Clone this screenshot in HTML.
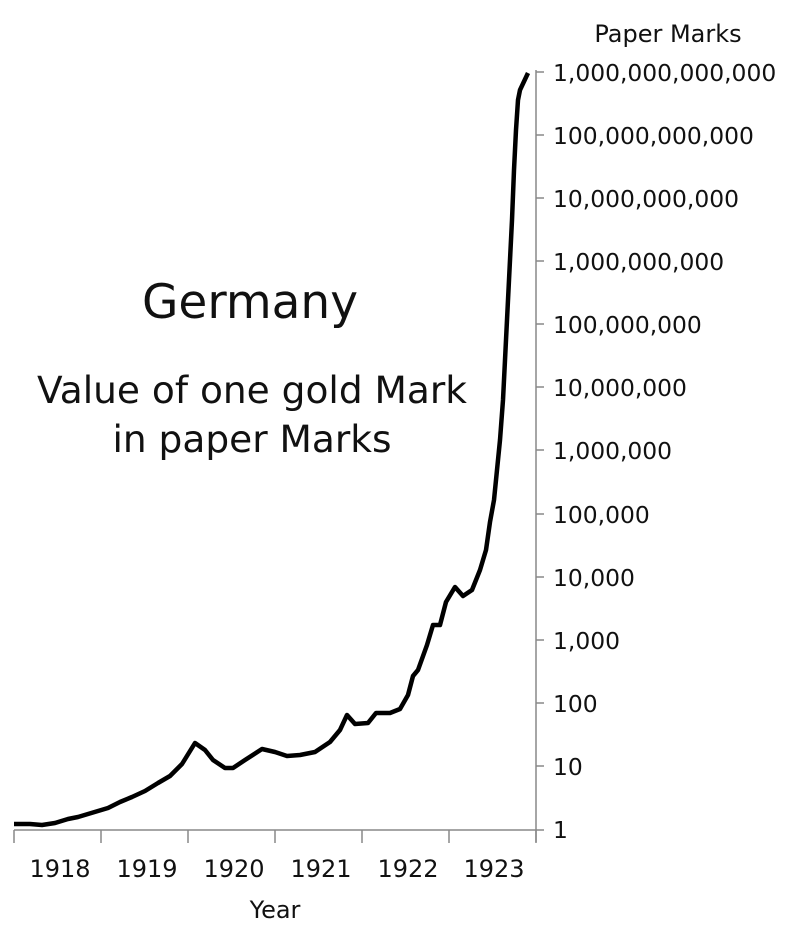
<!DOCTYPE html>
<html><head><meta charset="utf-8"><style>
body{margin:0;background:#fff}
svg text{font-family:"DejaVu Sans","Liberation Sans",sans-serif;fill:#111}
</style></head><body>
<svg width="800" height="928" xmlns="http://www.w3.org/2000/svg">
<g stroke="#888" stroke-width="1.5" fill="none">
<line x1="536" y1="70" x2="536" y2="842"/>
<line x1="14" y1="830" x2="544" y2="830"/>
<line x1="536" y1="72" x2="544" y2="72"/><line x1="536" y1="135" x2="544" y2="135"/>
<line x1="536" y1="198" x2="544" y2="198"/><line x1="536" y1="261" x2="544" y2="261"/>
<line x1="536" y1="324" x2="544" y2="324"/><line x1="536" y1="387" x2="544" y2="387"/>
<line x1="536" y1="450" x2="544" y2="450"/><line x1="536" y1="514" x2="544" y2="514"/>
<line x1="536" y1="577" x2="544" y2="577"/><line x1="536" y1="640" x2="544" y2="640"/>
<line x1="536" y1="703" x2="544" y2="703"/><line x1="536" y1="766" x2="544" y2="766"/>
<line x1="14" y1="830" x2="14" y2="843"/><line x1="101" y1="830" x2="101" y2="843"/>
<line x1="188" y1="830" x2="188" y2="843"/><line x1="275" y1="830" x2="275" y2="843"/>
<line x1="362" y1="830" x2="362" y2="843"/><line x1="449" y1="830" x2="449" y2="843"/>
<line x1="536" y1="830" x2="536" y2="843"/>
</g>
<g font-size="23.4">
<text x="553" y="81">1,000,000,000,000</text>
<text x="553" y="144">100,000,000,000</text>
<text x="553" y="207">10,000,000,000</text>
<text x="553" y="270">1,000,000,000</text>
<text x="553" y="333">100,000,000</text>
<text x="553" y="396">10,000,000</text>
<text x="553" y="459">1,000,000</text>
<text x="553" y="523">100,000</text>
<text x="553" y="586">10,000</text>
<text x="553" y="649">1,000</text>
<text x="553" y="712">100</text>
<text x="553" y="775">10</text>
<text x="553" y="838">1</text>
</g>
<text x="668" y="42" font-size="24" text-anchor="middle">Paper Marks</text>
<g font-size="24" text-anchor="middle">
<text x="60" y="877">1918</text><text x="147" y="877">1919</text>
<text x="234" y="877">1920</text><text x="321" y="877">1921</text>
<text x="408" y="877">1922</text><text x="494" y="877">1923</text>
</g>
<text x="275" y="918" font-size="24" text-anchor="middle">Year</text>
<text x="250" y="318" font-size="47" text-anchor="middle">Germany</text>
<text x="252" y="403" font-size="37.5" text-anchor="middle">Value of one gold Mark</text>
<text x="252" y="452" font-size="37.5" text-anchor="middle">in paper Marks</text>
<polyline fill="none" stroke="#000" stroke-width="4.5" stroke-linejoin="round" points="14,824 30,824 42,825 55,823 68,819 78,817 88,814 98,811 108,808 120,802 132,797 145,791 158,783 170,776 182,764 195,743 205,750 213,760 225,768 233,768 245,760 262,749 275,752 287,756 300,755 315,752 330,742 340,730 347,715 355,724 368,723 376,713 390,713 400,709 408,695 413,676 418,670 427,645 433,625 440,625 446,602 455,587 463,596 472,590 480,570 486,550 490,522 494,500 497,470 500,440 503,400 506,340 509,280 512,220 514,170 516,130 518,100 520,90 528,73"/>
</svg>
</body></html>
